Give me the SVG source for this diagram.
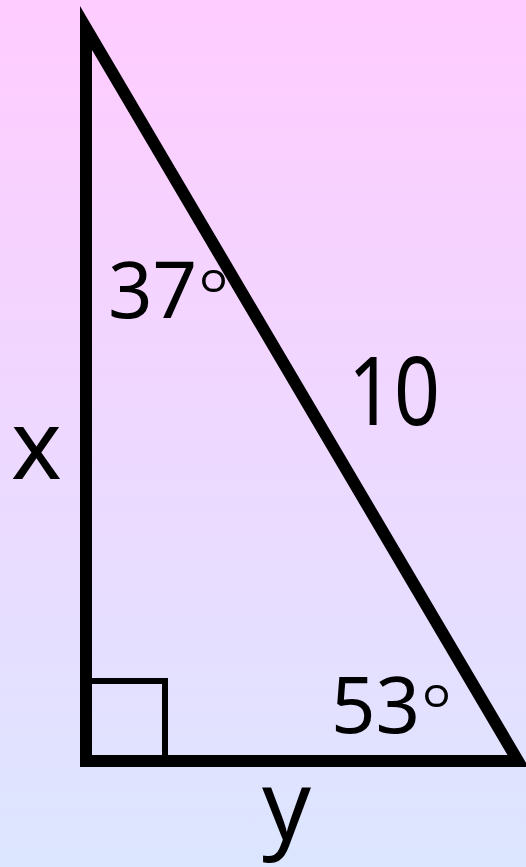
<svg xmlns="http://www.w3.org/2000/svg" width="526" height="867" viewBox="0 0 526 867">
  <defs>
    <linearGradient id="bg" x1="0" y1="0" x2="0" y2="1">
      <stop offset="0" stop-color="#FFCCFF"/>
      <stop offset="0.5" stop-color="#EED8FF"/>
      <stop offset="1" stop-color="#DCE6FF"/>
    </linearGradient>
  </defs>
  <style>
    .lbl { font-family: "Noto Sans", "DejaVu Sans", sans-serif; fill: #000; }
    .deg { font-size: 76px; font-weight: 300; }
    .edge { fill: none; stroke: #000; stroke-width: 12; stroke-linejoin: miter; stroke-miterlimit: 10; }
    .mark { fill: none; stroke: #000; stroke-width: 6; }
  </style>
  <rect x="0" y="0" width="526" height="867" fill="url(#bg)"/>
  <g id="connectors">
    <polygon id="triangle" class="edge" points="86,28 86,761 518,761"/>
    <polyline id="right-angle" class="mark" points="89,681 165,681 165,758"/>
  </g>
  <g id="angle-top"><text class="lbl" x="108" y="318" font-size="78">37<tspan class="deg" dx="0" dy="6">°</tspan></text></g>
  <g id="hypotenuse-label"><text class="lbl" x="348" y="425" font-size="95" textLength="92" lengthAdjust="spacingAndGlyphs">10</text></g>
  <g id="angle-bottom"><text class="lbl" x="331" y="733" font-size="78">53<tspan class="deg" dx="0" dy="6">°</tspan></text></g>
  <g id="side-x"><text class="lbl" x="11" y="479" font-size="96">x</text></g>
  <g id="side-y"><text class="lbl" x="262" y="840" font-size="96">y</text></g>
</svg>
